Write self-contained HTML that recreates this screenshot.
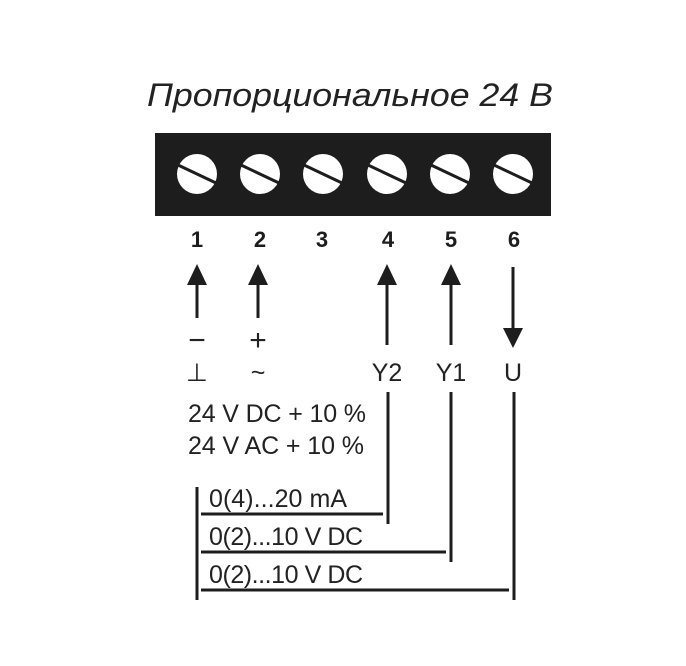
<!DOCTYPE html>
<html><head><meta charset="utf-8"><style>html,body{margin:0;padding:0;background:#fff}svg{display:block}</style></head>
<body>
<svg width="686" height="666" viewBox="0 0 686 666" xmlns="http://www.w3.org/2000/svg" font-family="Liberation Sans, DejaVu Sans, sans-serif">
<rect width="686" height="666" fill="#fff"/>
<text x="147" y="106" font-size="32" font-style="italic" textLength="406" lengthAdjust="spacingAndGlyphs" fill="#222">Пропорциональное 24 В</text>
<rect x="155" y="133" width="396" height="83" fill="#1d1d1d"/>
<g fill="#fff">
<circle cx="197" cy="174" r="20"/><circle cx="260" cy="174" r="20"/><circle cx="323" cy="174" r="20"/><circle cx="387" cy="174" r="20"/><circle cx="450" cy="174" r="20"/><circle cx="513" cy="174" r="20"/>
</g>
<g stroke="#1d1d1d" stroke-width="3">
<line x1="178" y1="165" x2="216" y2="183"/><line x1="241" y1="165" x2="279" y2="183"/><line x1="304" y1="165" x2="342" y2="183"/><line x1="368" y1="165" x2="406" y2="183"/><line x1="431" y1="165" x2="469" y2="183"/><line x1="494" y1="165" x2="532" y2="183"/>
</g>
<g font-size="22" font-weight="bold" text-anchor="middle" fill="#1d1d1d">
<text x="197" y="247">1</text><text x="260" y="247">2</text><text x="322" y="247">3</text><text x="388" y="247">4</text><text x="451" y="247">5</text><text x="514" y="247">6</text>
</g>
<g stroke="#1d1d1d" stroke-width="3">
<line x1="197" y1="280" x2="197" y2="318"/><line x1="258" y1="280" x2="258" y2="318"/>
<line x1="387" y1="280" x2="387" y2="345"/><line x1="451" y1="280" x2="451" y2="345"/>
<line x1="513" y1="267" x2="513" y2="332"/>
</g>
<g fill="#1d1d1d">
<polygon points="197,264 187,285 207,285"/><polygon points="258,264 248,285 268,285"/>
<polygon points="387,264 377,285 397,285"/><polygon points="451,264 441,285 461,285"/>
<polygon points="513,348 503,328 523,328"/>
</g>
<g font-size="30" text-anchor="middle" fill="#222">
<text x="197" y="350">−</text><text x="258" y="350">+</text>
</g>
<g font-size="25" text-anchor="middle" fill="#222">
<text x="197" y="381">⊥</text><text x="258" y="381">~</text>
<text x="387" y="381">Y2</text><text x="451" y="381">Y1</text><text x="513" y="381">U</text>
</g>
<g font-size="25" fill="#222" lengthAdjust="spacingAndGlyphs">
<text x="188" y="422" textLength="178">24 V DC + 10 %</text>
<text x="188" y="454" textLength="176">24 V AC + 10 %</text>
<text x="209" y="507" textLength="138">0(4)...20 mA</text>
<text x="209" y="545" textLength="154">0(2)...10 V DC</text>
<text x="209" y="583" textLength="154">0(2)...10 V DC</text>
</g>
<g stroke="#1d1d1d" stroke-width="3">
<line x1="388" y1="392" x2="388" y2="524"/>
<line x1="451" y1="392" x2="451" y2="562"/>
<line x1="514" y1="392" x2="514" y2="600"/>
<line x1="197" y1="487" x2="197" y2="600"/>
<line x1="201" y1="514" x2="383" y2="514"/>
<line x1="201" y1="552" x2="446" y2="552"/>
<line x1="201" y1="590" x2="509" y2="590"/>
</g>
</svg>
</body></html>
